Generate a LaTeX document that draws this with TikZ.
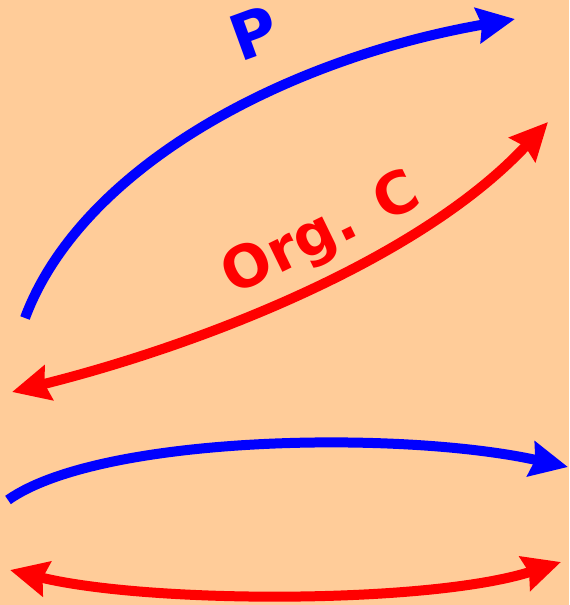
\documentclass[tikz,border=0pt]{standalone}
\usepackage{fontspec}
\setmainfont{DejaVu Sans}
\usetikzlibrary{arrows.meta, positioning}
\definecolor{fondoMelocoton}{RGB}{255, 204, 153}
\definecolor{azulFlujo}{RGB}{0, 0, 255}
\definecolor{rojoFlujo}{RGB}{255, 0, 0}

\begin{document}
\begin{tikzpicture}[x=0.02cm, y=-0.02cm,
        flujo/.style={line width=0.2cm, line cap=butt, >={Stealth[length=0.75cm, width=0.7cm, inset=0.08cm]}},
        rotulo/.style={font=\fontsize{36}{40}\selectfont\bfseries, inner sep=0pt}]
    \fill[fondoMelocoton] (0,0) rectangle (569,605);
    \useasboundingbox (0,0) rectangle (569,605);
    % extremos de las flechas
    \coordinate (pIni) at (25,318);
    \coordinate (pFin) at (515,19);
    \coordinate (cIni) at (12,392);
    \coordinate (cFin) at (548,122);
    \coordinate (bIni) at (8,500);
    \coordinate (bFin) at (568,467);
    \coordinate (rIni) at (10,570);
    \coordinate (rFin) at (561,562);
    % rotulos
    \node[rotulo, text=azulFlujo, rotate=20] (etiqP) at (254,33) {P};
    \node[rotulo, text=rojoFlujo, rotate=26, font=\fontsize{33}{38}\selectfont\bfseries] (etiqC) at (322,236) {Org. C};
    % flechas
    \draw[flujo, azulFlujo, ->] (pIni) .. controls (80,170) and (280,60) .. (pFin);
    \draw[flujo, rojoFlujo, <->] (cIni) .. controls (200,345) and (420,260) .. (cFin);
    \draw[flujo, azulFlujo, ->] (bIni) .. controls (100,435) and (400,430) .. (bFin);
    \draw[flujo, rojoFlujo, <->] (rIni) .. controls (150,604) and (430,604) .. (rFin);
\end{tikzpicture}
\end{document}
